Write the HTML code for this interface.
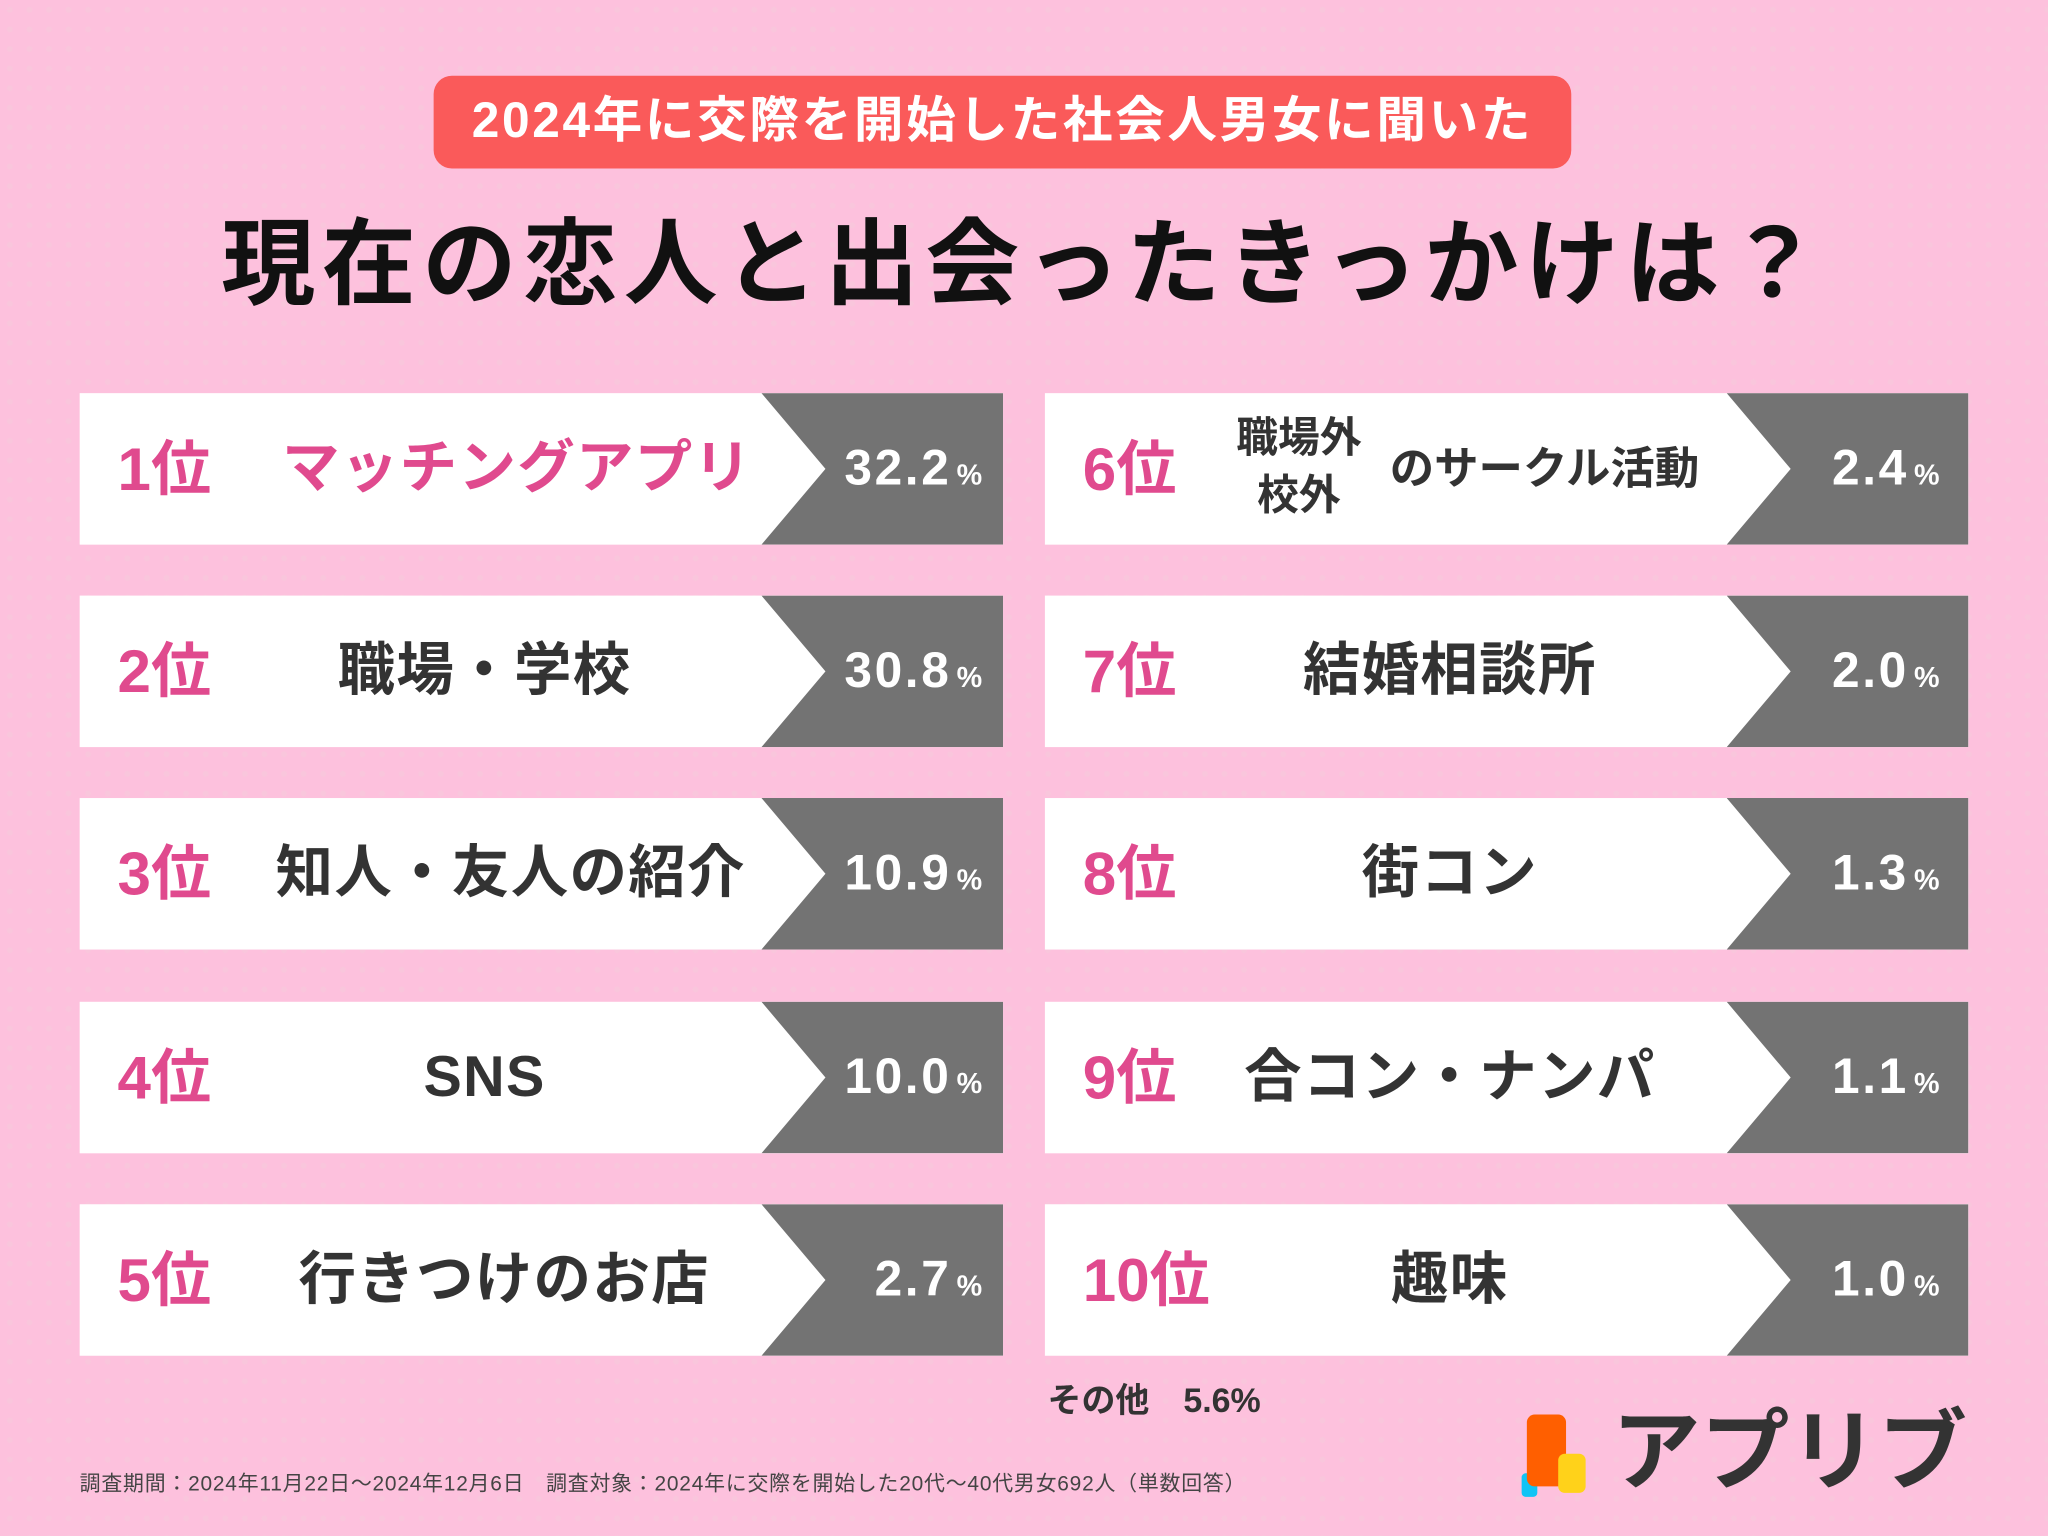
<!DOCTYPE html>
<html><head><meta charset="utf-8"><style>
*{margin:0;padding:0;box-sizing:border-box}
html,body{width:2048px;height:1536px;overflow:hidden;background:#fdc1dd}
#w{width:1568px;height:1176px;transform:scale(1.306122);transform-origin:0 0;position:relative;background:#fdc1dd;
background-image:radial-gradient(circle,#f9c6dc 2px,transparent 2.5px);background-size:15px 15px;
font-family:"Liberation Sans","Noto Sans CJK JP",sans-serif;font-weight:bold}
.pill{position:absolute;left:332px;top:58px;width:871px;height:71px;background:#fa5a5a;border-radius:14px;color:#fff;font-size:38px;text-align:center;line-height:71px;letter-spacing:2px}
.title{position:absolute;left:0;width:1568px;top:158px;text-align:center;font-size:72px;color:#111;letter-spacing:5px;line-height:90px}
.row{position:absolute;width:707px;height:116px;background:#fff}
.row svg{position:absolute;left:522px;top:0}
.rk{position:absolute;left:29px;top:0;line-height:116px;font-size:46px;color:#e04a8e}
.lb{position:absolute;left:110px;width:400px;text-align:center;top:0;line-height:116px;font-size:44px;color:#333;letter-spacing:1px}
.r .lb{left:110px}
.pc{position:absolute;right:14px;top:0;line-height:116px;font-size:38px;color:#fff;letter-spacing:2px}
.r .pc{right:20px}
.pc small{font-size:22px;margin-left:4px}
</style></head><body><div id="w">
<div class="pill">2024年に交際を開始した社会人男女に聞いた</div>
<div class="title">現在の恋人と出会ったきっかけは？</div>

<div class="row" style="left:61px;top:301px"><svg width="185" height="116"><polygon points="0,0 185,0 185,116 0,116 49,58" fill="#737373"/></svg><span class="rk">1位</span><span class="lb" style="color:#e04a8e;left:140px;width:390px">マッチングアプリ</span><span class="pc">32.2<small>%</small></span></div>
<div class="row" style="left:61px;top:456px"><svg width="185" height="116"><polygon points="0,0 185,0 185,116 0,116 49,58" fill="#737373"/></svg><span class="rk">2位</span><span class="lb">職場・学校</span><span class="pc">30.8<small>%</small></span></div>
<div class="row" style="left:61px;top:611px"><svg width="185" height="116"><polygon points="0,0 185,0 185,116 0,116 49,58" fill="#737373"/></svg><span class="rk">3位</span><span class="lb" style="left:130px">知人・友人の紹介</span><span class="pc">10.9<small>%</small></span></div>
<div class="row" style="left:61px;top:767px"><svg width="185" height="116"><polygon points="0,0 185,0 185,116 0,116 49,58" fill="#737373"/></svg><span class="rk">4位</span><span class="lb">SNS</span><span class="pc">10.0<small>%</small></span></div>
<div class="row" style="left:61px;top:922px"><svg width="185" height="116"><polygon points="0,0 185,0 185,116 0,116 49,58" fill="#737373"/></svg><span class="rk">5位</span><span class="lb" style="left:125px">行きつけのお店</span><span class="pc">2.7<small>%</small></span></div>

<div class="row r" style="left:800px;top:301px"><svg width="185" height="116"><polygon points="0,0 185,0 185,116 0,116 49,58" fill="#737373"/></svg><span class="rk">6位</span>
<span style="position:absolute;left:132px;top:12px;font-size:32px;color:#333;line-height:44px;text-align:center;width:125px">職場外<br>校外</span>
<span style="position:absolute;left:264px;top:0;line-height:116px;font-size:34px;color:#333">のサークル活動</span><span class="pc">2.4<small>%</small></span></div>
<div class="row r" style="left:800px;top:456px"><svg width="185" height="116"><polygon points="0,0 185,0 185,116 0,116 49,58" fill="#737373"/></svg><span class="rk">7位</span><span class="lb">結婚相談所</span><span class="pc">2.0<small>%</small></span></div>
<div class="row r" style="left:800px;top:611px"><svg width="185" height="116"><polygon points="0,0 185,0 185,116 0,116 49,58" fill="#737373"/></svg><span class="rk">8位</span><span class="lb">街コン</span><span class="pc">1.3<small>%</small></span></div>
<div class="row r" style="left:800px;top:767px"><svg width="185" height="116"><polygon points="0,0 185,0 185,116 0,116 49,58" fill="#737373"/></svg><span class="rk">9位</span><span class="lb">合コン・ナンパ</span><span class="pc">1.1<small>%</small></span></div>
<div class="row r" style="left:800px;top:922px"><svg width="185" height="116"><polygon points="0,0 185,0 185,116 0,116 49,58" fill="#737373"/></svg><span class="rk">10位</span><span class="lb">趣味</span><span class="pc">1.0<small>%</small></span></div>

<div style="position:absolute;left:802px;top:1054px;font-size:26px;color:#333;line-height:36px">その他　5.6%</div>
<div style="position:absolute;left:61px;top:1126px;font-size:16px;color:#444;font-weight:normal;line-height:22px;letter-spacing:0.6px">調査期間：2024年11月22日〜2024年12月6日　調査対象：2024年に交際を開始した20代〜40代男女692人（単数回答）</div>
<svg style="position:absolute;left:1163px;top:1080px" width="70" height="70">
<rect x="2" y="48" width="12" height="18" rx="3" fill="#10c4f5"/>
<rect x="6" y="3" width="30" height="55" rx="6" fill="#ff5f00"/>
<rect x="30" y="33" width="21" height="30" rx="5" fill="#ffd21a"/>
</svg>
<div style="position:absolute;left:1234px;top:1072px;font-size:68px;color:#333;line-height:80px;letter-spacing:0px">アプリブ</div>
</div></body></html>
